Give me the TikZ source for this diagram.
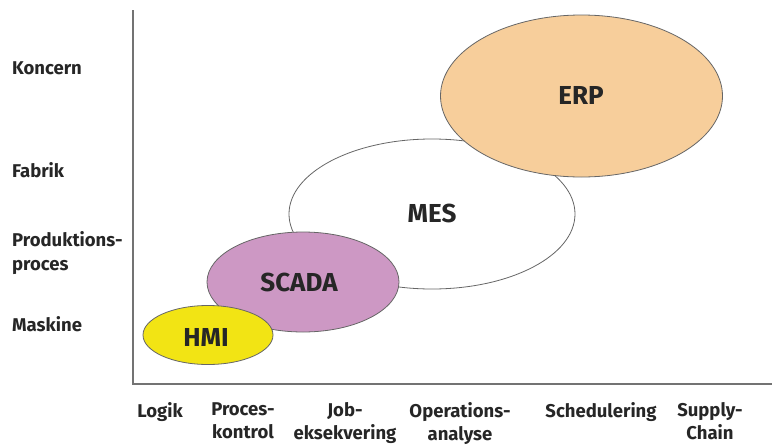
\documentclass[tikz,border=0pt]{standalone}
\usepackage{fontspec}
\setmainfont{Fira Sans}
\begin{document}
\begin{tikzpicture}[x=1pt,y=-1pt,
  lab/.style={font=\bfseries\fontsize{18.5}{23.5}\selectfont, text=black!85, inner sep=0pt},
  blab/.style={lab, align=center, anchor=north},
  llab/.style={lab, align=left, anchor=west},
  elab/.style={font=\bfseries\fontsize{26}{30}\selectfont, text=black!85},
  ell/.style={draw=black!60, line width=0.8pt},
  axis/.style={draw=black!55, line width=2pt}]
\useasboundingbox (0,0) rectangle (780,445);
% axes
\coordinate (top) at (133,10);
\coordinate (orig) at (133,384);
\coordinate (xend) at (772,384);
\draw[axis] (top) -- (orig) -- (xend);
% ellipses (back to front)
\draw[ell, fill=white] (432,214) ellipse [x radius=143, y radius=75];
\node[elab] (mes) at (432,213) {MES};
\draw[ell, fill={rgb,255:red,247;green,206;blue,155}] (581.5,96) ellipse [x radius=141, y radius=81];
\node[elab] (erp) at (581,95) {ERP};
\draw[ell, fill={rgb,255:red,205;green,152;blue,196}] (303,282) ellipse [x radius=96, y radius=50];
\node[elab] (scada) at (299,282) {SCADA};
\draw[ell, fill={rgb,255:red,242;green,228;blue,20}] (208,335) ellipse [x radius=65, y radius=29.5];
\node[elab] (hmi) at (206,337) {HMI};
% left labels
\node[llab] (koncern) at (12,68) {Koncern};
\node[llab] (fabrik) at (12,170) {Fabrik};
\node[llab] (prod) at (12,253) {Produktions-\\proces};
\node[llab] (maskine) at (12,324) {Maskine};
% bottom labels
\node[blab] (logik) at (160,402) {Logik};
\node[blab] (proces) at (243,402) {Proces-\\kontrol};
\node[blab] (job) at (345,402) {Job-\\eksekvering};
\node[blab] (oper) at (460,402) {Operations-\\analyse};
\node[blab] (sched) at (601,402) {Schedulering};
\node[blab] (supply) at (710,402) {Supply-\\Chain};
\end{tikzpicture}
\end{document}
